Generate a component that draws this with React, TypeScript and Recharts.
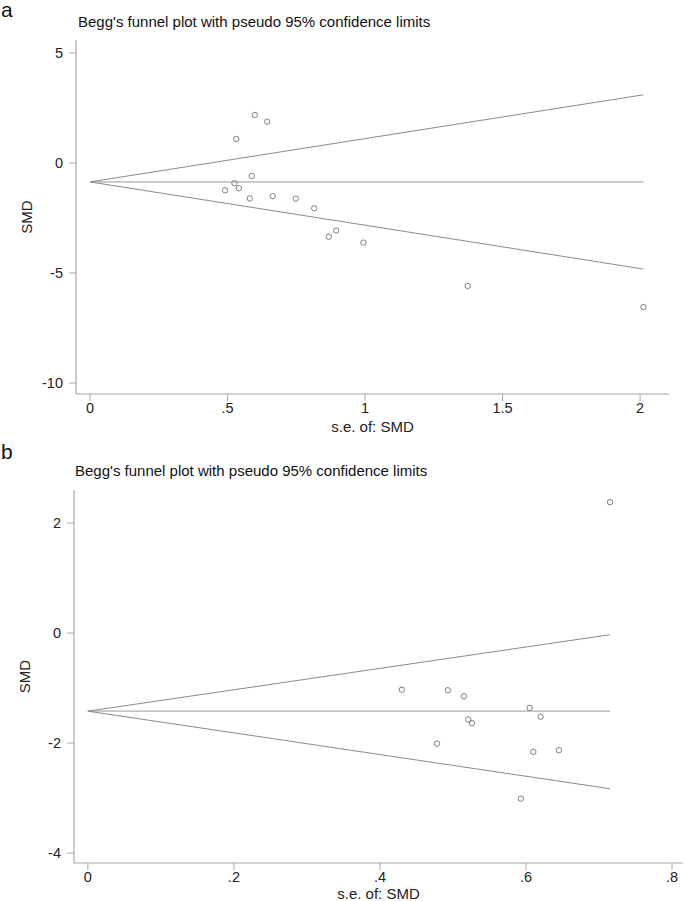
import React from 'react';
import { ScatterChart, Scatter, XAxis, YAxis } from 'recharts';

// panel a: studies (standard error, SMD)
const seA = [0.491, 0.525, 0.541, 0.588, 0.581, 0.664, 0.748, 0.815, 0.868, 0.895, 0.994, 1.373, 2.012, 0.532, 0.599, 0.644];
const smdA = [-1.24, -0.92, -1.15, -0.59, -1.61, -1.51, -1.62, -2.06, -3.35, -3.07, -3.62, -5.59, -6.55, 1.09, 2.18, 1.88];
// panel a: funnel (pseudo 95% limits) end points
const funnelSeA = [0, 2.012];
const upperA = [-0.86, 3.1];
const lowerA = [-0.86, -4.82];
const centerA = [-0.86, -0.86];
const xTicksA = [0, 0.5, 1, 1.5, 2];
const yTicksA = [-10, -5, 0, 5];

// panel b
const seB = [0.43, 0.493, 0.515, 0.521, 0.526, 0.478, 0.605, 0.62, 0.61, 0.645, 0.593, 0.715];
const smdB = [-1.03, -1.04, -1.15, -1.57, -1.64, -2.01, -1.36, -1.52, -2.16, -2.13, -3.01, 2.38];
const funnelSeB = [0, 0.715];
const upperB = [-1.42, -0.03];
const lowerB = [-1.42, -2.83];
const centerB = [-1.42, -1.42];
const xTicksB = [0, 0.2, 0.4, 0.6, 0.8];
const yTicksB = [-4, -2, 0, 2];

const FONT = '"Liberation Sans", Arial, sans-serif';
const AXIS = '#a8a8a8';

const pts = (xs: number[], ys: number[]) => xs.map((se, i) => ({ se, smd: ys[i] }));
const fmt = (v: number) => String(v).replace(/^0\./, '.').replace(/^-0\./, '-.');

const Circle = (props: any) => (
  <circle cx={props.cx} cy={props.cy} r={2.7} fill="none" stroke="#707070" strokeWidth={0.9} />
);
const NoMark = () => <g />;

const yLabel = (x: number) => (props: any) => {
  const vb = props.viewBox;
  const cy = vb.y + vb.height / 2;
  return (
    <text
      x={x}
      y={cy}
      transform={`rotate(-90 ${x} ${cy})`}
      textAnchor="middle"
      dominantBaseline="central"
      fontSize={15}
      fontFamily={FONT}
      fill="#222"
    >
      SMD
    </text>
  );
};

type PanelProps = {
  top: number;
  height: number;
  margin: { top: number; right: number; bottom: number; left: number };
  yWidth: number;
  xHeight: number;
  xDomain: [number, number];
  yDomain: [number, number];
  xTicks: number[];
  yTicks: number[];
  points: { se: number; smd: number }[];
  funnelSe: number[];
  upper: number[];
  lower: number[];
  center: number[];
  yLabelX: number;
  xLabelOffset: number;
};

const Panel = (p: PanelProps) => {
  const tick = { fill: '#222', fontSize: 14.5, fontFamily: FONT };
  return (
    <div style={{ position: 'absolute', left: 0, top: p.top }}>
      <ScatterChart width={685} height={p.height} margin={p.margin}>
        <XAxis
          type="number"
          dataKey="se"
          domain={p.xDomain}
          ticks={p.xTicks}
          tickFormatter={fmt}
          allowDataOverflow
          height={p.xHeight}
          tick={tick}
          tickSize={7}
          tickMargin={2}
          axisLine={{ stroke: AXIS, strokeWidth: 1.2 }}
          tickLine={{ stroke: AXIS }}
          label={{
            value: 's.e. of: SMD',
            position: 'insideBottom',
            offset: p.xLabelOffset,
            fill: '#222',
            fontSize: 15,
            fontFamily: FONT,
          }}
        />
        <YAxis
          type="number"
          dataKey="smd"
          domain={p.yDomain}
          ticks={p.yTicks}
          allowDataOverflow
          width={p.yWidth}
          tick={tick}
          tickSize={7}
          tickMargin={6}
          axisLine={{ stroke: AXIS, strokeWidth: 1.2 }}
          tickLine={{ stroke: AXIS }}
          label={{ content: yLabel(p.yLabelX) }}
        />
        <Scatter
          data={pts(p.funnelSe, p.center)}
          line={{ stroke: '#c4c4c4', strokeWidth: 1.8 }}
          shape={NoMark}
          isAnimationActive={false}
        />
        <Scatter
          data={pts(p.funnelSe, p.upper)}
          line={{ stroke: '#8a8a8a', strokeWidth: 1 }}
          shape={NoMark}
          isAnimationActive={false}
        />
        <Scatter
          data={pts(p.funnelSe, p.lower)}
          line={{ stroke: '#8a8a8a', strokeWidth: 1 }}
          shape={NoMark}
          isAnimationActive={false}
        />
        <Scatter data={p.points} shape={Circle} isAnimationActive={false} />
      </ScatterChart>
    </div>
  );
};

const title = "Begg's funnel plot with pseudo 95% confidence limits";

export default function App() {
  return (
    <div style={{ position: 'absolute', left: 0, top: 0, width: 685, height: 901, background: '#fff' }}>
      <Panel
        top={0}
        height={440}
        margin={{ top: 40, right: 16, bottom: 6, left: 0 }}
        yWidth={76}
        xHeight={40}
        xDomain={[-0.051, 2.105]}
        yDomain={[-10.5, 5.59]}
        xTicks={xTicksA}
        yTicks={yTicksA}
        points={pts(seA, smdA)}
        funnelSe={funnelSeA}
        upper={upperA}
        lower={lowerA}
        center={centerA}
        yLabelX={26}
        xLabelOffset={2}
      />
      <Panel
        top={440}
        height={461}
        margin={{ top: 50, right: 2, bottom: 2, left: 0 }}
        yWidth={74}
        xHeight={36}
        xDomain={[-0.019, 0.815]}
        yDomain={[-4.18, 2.6]}
        xTicks={xTicksB}
        yTicks={yTicksB}
        points={pts(seB, smdB)}
        funnelSe={funnelSeB}
        upper={upperB}
        lower={lowerB}
        center={centerB}
        yLabelX={24}
        xLabelOffset={0}
      />
      <svg
        width={685}
        height={901}
        style={{ position: 'absolute', left: 0, top: 0, pointerEvents: 'none' }}
      >
        <text x={1} y={17} fontSize={21} fontFamily={FONT} fill="#111">a</text>
        <text x={78} y={27} fontSize={15} fontFamily={FONT} fill="#111">{title}</text>
        <text x={1} y={459} fontSize={21} fontFamily={FONT} fill="#111">b</text>
        <text x={75} y={476} fontSize={15} fontFamily={FONT} fill="#111">{title}</text>
      </svg>
    </div>
  );
}
